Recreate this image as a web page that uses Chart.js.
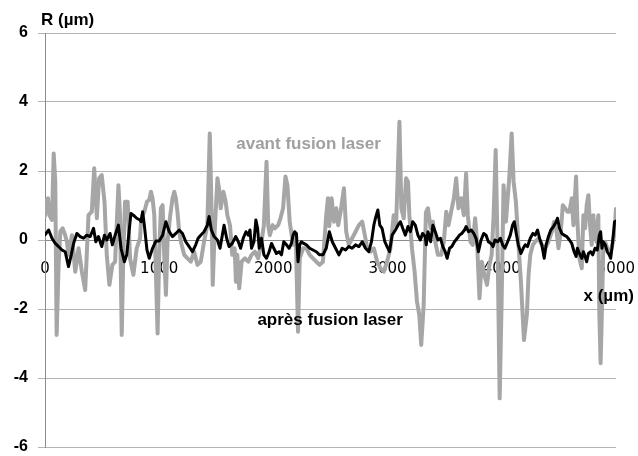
<!DOCTYPE html>
<html lang="fr">
<head>
<meta charset="UTF-8">
<title>Profil de rugosité avant / après fusion laser</title>
<script src="https://cdn.jsdelivr.net/npm/chart.js"></script>
<style>
  body { margin: 0; background: #fff; }
  #wrap { width: 638px; height: 456px; }
</style>
</head>
<body>
<div id="wrap"><canvas id="profil" width="638" height="456"></canvas></div>
<script>
// graduations
const xTicks = [0, 1000, 2000, 3000, 4000, 5000];
const yTicks = [-6, -4, -2, 0, 2, 4, 6];

// profil avant fusion laser : [x (µm), R (µm)]
const avant = [
  [0, 0.7], [9, 1.16], [26, 1.21], [38, 0.72], [61, 0.58], [76, 2.51], [90, 1.69], [102, -2.75],
  [119, -0.72], [134, 0.24], [154, 0.34], [177, 0.14], [192, -0.05], [206, -0.43], [236, 0.14],
  [265, -0.92], [294, -0.24], [323, -0.92], [352, -1.45], [381, 0.72], [410, 0.82], [431, 2.08],
  [454, 0.63], [474, 1.79], [497, 1.88], [521, 1.11], [541, -0.43], [564, -1.30], [590, -0.72],
  [614, -0.63], [643, 1.59], [657, 0.72], [672, -2.75], [686, -0.43], [701, 1.11], [724, 1.11],
  [745, -0.53], [774, -1.01], [803, -0.24], [832, 0.05], [841, 0.53], [855, 0.72], [870, 0.82],
  [893, 1.11], [913, 1.16], [928, 1.40], [942, 1.21], [957, 0.72], [971, -0.92], [986, -2.71],
  [1000, -0.43], [1015, 0.92], [1030, 1.01], [1044, -0.43], [1059, -1.59], [1073, -0.05],
  [1097, 0.72], [1117, 1.21], [1132, 1.40], [1146, 1.21], [1160, 0.82], [1175, 0.24], [1190, -0.05],
  [1219, -0.43], [1248, -0.53], [1277, -0.63], [1306, -0.34], [1335, -0.72], [1364, -0.63],
  [1393, -0.05], [1422, 0.43], [1443, 3.09], [1457, 1.11], [1469, -1.30], [1486, 0.24], [1510, 1.79],
  [1524, 1.50], [1539, 0.92], [1562, 1.40], [1582, 1.11], [1597, 0.72], [1620, 0.43], [1640, -0.43],
  [1661, -0.24], [1672, -1.21], [1684, -0.43], [1701, -1.40], [1722, -0.63], [1751, -0.53],
  [1780, -0.63], [1809, -0.43], [1838, -0.34], [1867, -0.53], [1896, -0.05], [1917, 0.43],
  [1940, 2.27], [1955, 0.43], [1969, 0.14], [1993, 0.43], [2013, 0.34], [2042, 0.43], [2062, 0.63],
  [2085, 0.92], [2106, 1.84], [2123, 1.59], [2143, 0.53], [2173, -0.14], [2196, 0.14], [2216, -2.66],
  [2231, -0.53], [2260, -0.24], [2289, -0.24], [2318, -0.43], [2347, -0.53], [2376, -0.63],
  [2405, -0.72], [2434, -0.63], [2463, 0.72], [2478, 1.21], [2490, 0.40], [2510, 1.21], [2531, 0.53],
  [2551, 0.92], [2568, 0.43], [2589, 0.82], [2618, 1.50], [2638, 0.24], [2661, -0.14], [2690, 0.05],
  [2720, 0.24], [2749, 0.43], [2778, 0.53], [2801, 0.14], [2822, -0.24], [2851, -0.34], [2880, -0.24],
  [2909, -0.63], [2938, -0.82], [2967, -0.92], [2996, -0.63], [3025, -0.24], [3054, 0.72], [3075, 0.43],
  [3104, 3.43], [3121, 0.92], [3142, 0.63], [3162, 1.79], [3179, 1.69], [3191, 0.72], [3214, -0.24],
  [3237, -0.92], [3258, -1.79], [3278, -2.17], [3295, -3.04], [3316, -1.90], [3336, 0.80], [3354, 0.92],
  [3377, 0.34], [3397, 0.53], [3418, -0.05], [3441, -0.43], [3470, -0.43], [3493, -0.05], [3514, 0.82],
  [3534, 0.43], [3557, 0.82], [3581, 1.21], [3601, 1.79], [3621, 0.92], [3645, 1.21], [3668, 0.72],
  [3688, 1.93], [3703, 0.72], [3726, -0.05], [3746, -0.14], [3767, 0.63], [3784, -0.05], [3805, -1.69],
  [3825, -0.63], [3848, -1.01], [3871, -1.30], [3892, -0.72], [3912, -0.43], [3929, 0.72], [3947, 2.61],
  [3964, -0.24], [3982, -4.59], [3999, -1.79], [4016, 1.59], [4037, 0.53], [4052, 1.21], [4066, 1.79],
  [4087, 3.09], [4104, 1.69], [4124, 1.11], [4145, -0.05], [4168, -1.21], [4195, -2.90], [4220, -2.17],
  [4235, -1.01], [4250, -0.43], [4273, -0.14], [4293, -0.05], [4322, 0.05], [4351, -0.14], [4380, -0.24],
  [4409, -0.05], [4439, 0.24], [4459, 0.53], [4477, 0.34], [4497, -0.24], [4517, 0.24], [4535, 1.01],
  [4555, 0.92], [4575, 0.82], [4593, 0.82], [4613, 1.21], [4628, 0.43], [4651, 1.84], [4663, 0.53],
  [4680, -0.53], [4701, -0.82], [4715, 0.72], [4730, 0.34], [4744, 1.01], [4759, 1.30], [4773, 0.43],
  [4788, -0.14], [4802, 0.72], [4817, 0.14], [4831, -0.05], [4846, 0.72], [4855, -2.17], [4866, -3.57],
  [4878, -1.98], [4889, -0.24], [4904, -0.05], [4924, -0.24], [4948, -0.43], [4975, -0.05], [4990, 0.30],
  [5000, 0.90]
];

// profil après fusion laser : [x (µm), R (µm)]
const apres = [
  [0, 0.15], [32, 0.29], [61, 0.05], [90, -0.10], [119, -0.19], [148, -0.29], [177, -0.34], [206, -0.77],
  [230, -0.43], [250, -0.10], [279, 0.19], [308, 0.10], [337, 0.05], [366, 0.14], [396, 0.10], [425, 0.34],
  [445, -0.05], [468, 0.10], [497, -0.19], [521, 0.14], [541, 0.00], [570, 0.19], [590, -0.14], [614, 0.14],
  [643, 0.43], [666, -0.24], [695, -0.63], [716, -0.43], [736, 0.24], [753, 0.77], [774, 0.72], [803, 0.63],
  [832, 0.58], [841, 0.53], [855, 0.82], [870, 0.43], [893, -0.29], [913, -0.53], [942, -0.24], [971, -0.03],
  [1000, -0.03], [1030, 0.14], [1059, 0.53], [1088, 0.24], [1117, 0.10], [1146, 0.19], [1175, 0.29],
  [1204, 0.19], [1233, -0.05], [1262, -0.19], [1291, -0.34], [1320, -0.14], [1341, 0.05], [1364, 0.14],
  [1393, 0.24], [1422, 0.43], [1437, 0.68], [1457, 0.29], [1481, 0.10], [1510, 0.00], [1533, -0.24],
  [1553, 0.14], [1568, 0.43], [1591, 0.05], [1612, -0.19], [1640, -0.10], [1670, 0.10], [1693, -0.05],
  [1713, -0.24], [1736, 0.05], [1760, 0.24], [1780, 0.14], [1795, 0.29], [1809, -0.24], [1830, -0.05],
  [1847, 0.58], [1862, 0.34], [1876, -0.24], [1896, 0.05], [1917, -0.43], [1940, -0.53], [1963, -0.34],
  [1984, -0.10], [2004, -0.24], [2027, -0.39], [2050, -0.34], [2071, -0.43], [2091, -0.05], [2115, -0.14],
  [2138, -0.24], [2158, -0.10], [2173, 0.14], [2187, 0.24], [2202, 0.19], [2216, -0.63], [2231, -0.14],
  [2245, -0.05], [2266, -0.10], [2289, -0.14], [2318, -0.24], [2347, -0.29], [2376, -0.34], [2405, -0.43],
  [2434, -0.43], [2463, -0.24], [2490, 0.24], [2516, -0.05], [2545, -0.24], [2574, -0.43], [2603, -0.24],
  [2632, -0.29], [2661, -0.19], [2690, -0.24], [2720, -0.14], [2749, -0.19], [2778, -0.05], [2807, -0.24],
  [2836, -0.34], [2859, -0.05], [2880, 0.43], [2894, 0.63], [2915, 0.87], [2932, 0.43], [2952, 0.34],
  [2976, -0.05], [2996, -0.19], [3017, -0.34], [3040, 0.14], [3069, 0.29], [3092, 0.43], [3113, 0.53],
  [3133, 0.34], [3156, 0.14], [3179, 0.39], [3200, 0.24], [3220, 0.53], [3243, 0.43], [3266, 0.14],
  [3287, 0.00], [3307, 0.19], [3330, 0.10], [3339, -0.14], [3354, 0.24], [3377, -0.05], [3397, 0.43],
  [3418, 0.24], [3441, 0.00], [3464, 0.05], [3484, -0.19], [3505, -0.34], [3522, -0.53], [3543, -0.24],
  [3563, -0.19], [3586, -0.05], [3610, 0.05], [3630, 0.14], [3650, 0.19], [3674, 0.29], [3688, 0.39],
  [3709, 0.24], [3732, 0.29], [3755, 0.19], [3775, 0.05], [3796, -0.34], [3819, 0.00], [3842, 0.19],
  [3863, 0.14], [3883, -0.05], [3906, -0.10], [3924, -0.19], [3941, 0.00], [3964, -0.05], [3988, 0.05],
  [4008, -0.14], [4028, -0.24], [4052, -0.05], [4075, 0.14], [4095, 0.43], [4110, 0.53], [4127, 0.19],
  [4145, -0.14], [4168, -0.39], [4188, -0.24], [4206, -0.14], [4226, -0.19], [4250, 0.05], [4273, 0.19],
  [4293, 0.14], [4314, 0.29], [4331, 0.05], [4351, -0.14], [4372, -0.53], [4389, -0.14], [4409, 0.10],
  [4430, 0.29], [4453, 0.39], [4477, 0.53], [4488, 0.63], [4506, 0.34], [4526, 0.19], [4546, 0.14],
  [4570, 0.10], [4593, 0.00], [4613, -0.10], [4634, -0.34], [4651, -0.48], [4663, -0.24], [4680, -0.39],
  [4701, -0.53], [4715, -0.34], [4730, -0.48], [4744, -0.63], [4759, -0.39], [4779, -0.34], [4797, -0.43],
  [4817, -0.24], [4837, -0.29], [4855, 0.14], [4866, 0.24], [4878, -0.24], [4889, -0.05], [4907, -0.14],
  [4924, -0.34], [4942, -0.43], [4954, -0.53], [4965, -0.24], [4977, 0.14], [4988, 0.53], [5000, 0.55]
];

const toPoints = arr => arr.map(p => ({ x: p[0], y: p[1] }));

// textes libres posés sur le graphique
const textes = {
    id: 'textes',
    afterDraw(chart) {
        const { ctx } = chart;
        const x = chart.scales.x;
        const y = chart.scales.y;
        ctx.save();
        ctx.font = 'bold 17px "Liberation Sans"';
        ctx.textBaseline = 'middle';

        ctx.fillStyle = '#000';
        ctx.textAlign = 'left';
        ctx.fillText('R (µm)', x.left - 4, y.top - 13);

        ctx.textAlign = 'right';
        ctx.fillText('x (µm)', x.right + 18, y.getPixelForValue(-1.62));

        ctx.textAlign = 'left';
        ctx.fillText('après fusion laser', x.getPixelForValue(1860), y.getPixelForValue(-2.33));

        ctx.fillStyle = '#a0a0a0';
        ctx.fillText('avant fusion laser', x.getPixelForValue(1675), y.getPixelForValue(2.78));
        ctx.restore();
    }
};

const chart = new Chart(document.getElementById('profil'), {
    type: 'line',
    data: {
        datasets: [
            {
                label: 'après fusion laser',
                data: toPoints(apres),
                borderColor: '#000000',
                borderWidth: 3,
                borderJoinStyle: 'round',
                borderCapStyle: 'round',
                pointRadius: 0,
                tension: 0,
                order: 1
            },
            {
                label: 'avant fusion laser',
                data: toPoints(avant),
                borderColor: '#a6a6a6',
                borderWidth: 4,
                borderJoinStyle: 'round',
                borderCapStyle: 'round',
                pointRadius: 0,
                tension: 0,
                order: 2
            }
        ]
    },
    options: {
        responsive: false,
        animation: false,
        layout: { padding: { top: 33, right: 20, bottom: 9, left: 0 } },
        plugins: {
            legend: { display: false },
            tooltip: { enabled: false }
        },
        scales: {
            x: {
                type: 'linear',
                min: 0,
                max: 5000,
                position: { y: 0 },
                afterBuildTicks: s => { s.ticks = xTicks.map(v => ({ value: v })); },
                grid: {
                    drawOnChartArea: false,
                    drawTicks: true,
                    tickLength: 17,
                    tickColor: 'rgba(0,0,0,0)'
                },
                border: { color: '#8c8c8c', width: 1 },
                ticks: {
                    padding: 3,
                    maxRotation: 0,
                    color: '#000',
                    font: { family: '"DejaVu Sans"', size: 15 },
                    callback: v => String(v)
                }
            },
            y: {
                min: -6,
                max: 6,
                afterBuildTicks: s => { s.ticks = yTicks.map(v => ({ value: v })); },
                afterFit: s => {
                    s.width = 45;
                    s.paddingTop = 9;
                    s.paddingBottom = 9;
                },
                grid: { color: '#b3b3b3', tickLength: 7 },
                border: { color: '#8c8c8c', width: 1 },
                ticks: {
                    padding: 10,
                    color: '#000',
                    font: { family: '"Liberation Sans"', size: 16, weight: 'bold' }
                }
            }
        }
    },
    plugins: [textes]
});
</script>
</body>
</html>
